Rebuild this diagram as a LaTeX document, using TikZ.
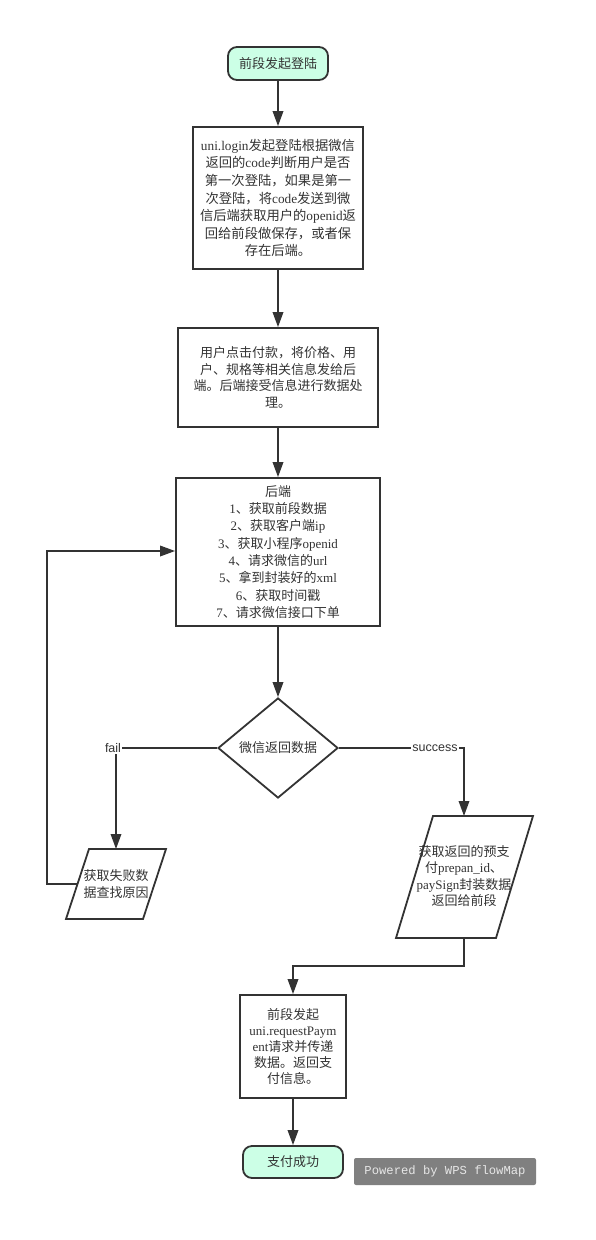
\documentclass[tikz,border=0pt]{standalone}
\usepackage{fontspec}
\setmainfont{Noto Sans CJK SC}
\newfontfamily\latf{Liberation Serif}
\newfontfamily\sansf{Liberation Sans}
\newfontfamily\monof{Liberation Mono}
\usetikzlibrary{arrows.meta,shapes.geometric}
\definecolor{ln}{HTML}{333333}
\definecolor{mint}{HTML}{CCFFE6}
\definecolor{wm}{HTML}{808080}
\definecolor{wmt}{HTML}{E6E6E6}
\tikzset{
  base/.style={draw=ln, line width=1.8pt, text=ln, inner sep=0pt, align=center},
  term/.style={base, rounded corners=9pt, fill=mint, font=\fontsize{13pt}{17pt}\selectfont},
  procbox/.style={base, font=\fontsize{13pt}{16.5pt}\selectfont},
  decide/.style={base, diamond, aspect=1.2, font=\fontsize{13pt}{17pt}\selectfont},
  para/.style={draw=ln, line width=1.8pt, line join=miter},
  ptext/.style={text=ln, inner sep=0pt, align=center, font=\fontsize{13pt}{16.5pt}\selectfont},
  arr/.style={draw=ln, line width=1.8pt, -{Triangle[length=15pt,width=10.5pt]}},
  lbl/.style={fill=white, text=ln, inner sep=1.5pt, font=\sansf\fontsize{12.5pt}{14pt}\selectfont},
}
\begin{document}
\begin{tikzpicture}[x=1pt,y=-1pt]
\useasboundingbox (0,0) rectangle (595,1240);

\node[term, minimum width=100pt, minimum height=33pt] (start) at (278,63.5) {前段发起登陆};

\node[procbox, minimum width=170pt, minimum height=142pt, font=\fontsize{13.3pt}{17.6pt}\selectfont] (b1) at (278,198) {{\latf uni.login}发起登陆根据微信\\
返回的{\latf code}判断用户是否\\
第一次登陆，如果是第一\\
次登陆，将{\latf code}发送到微\\
信后端获取用户的{\latf openid}返\\
回给前段做保存，或者保\\
存在后端。};

\node[procbox, minimum width=200pt, minimum height=99pt] (b2) at (278,377.5) {用户点击付款，将价格、用\\
户、规格等相关信息发给后\\
端。后端接受信息进行数据处\\
理。};

\node[procbox, minimum width=204pt, minimum height=148pt, font=\fontsize{13pt}{17.3pt}\selectfont] (b3) at (278,552) {后端\\
{\latf 1}、获取前段数据\\
{\latf 2}、获取客户端{\latf ip}\\
{\latf 3}、获取小程序{\latf openid}\\
{\latf 4}、请求微信的{\latf url}\\
{\latf 5}、拿到封装好的{\latf xml}\\
{\latf 6}、获取时间戳\\
{\latf 7}、请求微信接口下单};

\node[decide, minimum width=120pt, minimum height=100pt] (d) at (278,748) {微信返回数据};

% fail parallelogram
\coordinate (fA) at (89,849);
\coordinate (fB) at (166,849);
\coordinate (fC) at (143,919);
\coordinate (fD) at (66,919);
\draw[para] (fA) -- (fB) -- (fC) -- (fD) -- cycle;
\coordinate (ftop) at (116,849);
\coordinate (fleft) at (77.5,884);
\node[ptext] (ft) at (116,884) {获取失败数\\据查找原因};

% success parallelogram
\coordinate (sA) at (433,816);
\coordinate (sB) at (533,816);
\coordinate (sC) at (496,938);
\coordinate (sD) at (396,938);
\draw[para] (sA) -- (sB) -- (sC) -- (sD) -- cycle;
\coordinate (stop) at (464,816);
\coordinate (sbot) at (464,938);
\node[ptext] (st) at (464,876) {获取返回的预支\\付{\latf prepan\_id}、\\{\latf paySign}封装数据\\返回给前段};

\node[procbox, minimum width=106pt, minimum height=103pt, font=\fontsize{13pt}{16pt}\selectfont] (b4) at (293,1046.5) {前段发起\\
{\latf uni.requestPaym}\\
{\latf ent}请求并传递\\
数据。返回支\\
付信息。};

\node[term, minimum width=100pt, minimum height=32pt] (end) at (293,1162) {支付成功};

% connectors
\draw[arr] (start) -- (b1);
\draw[arr] (b1) -- (b2);
\draw[arr] (b2) -- (b3);
\draw[arr] (b3) -- (d);
\draw[arr] (d.west) -| (ftop);
\node[lbl] (failL) at (113,748) {fail};
\draw[arr] (d.east) -| (stop);
\node[lbl] (succL) at (435,748) {success};
\coordinate (loopA) at (47,884);
\coordinate (loopB) at (47,551);
\draw[arr] (fleft) -- (loopA) -- (loopB) -- (b3.west |- loopB);
\coordinate (sdown) at (464,966);
\draw[arr] (sbot) -- (sdown) -| (b4.north);
\draw[arr] (b4) -- (end);

% watermark
\node[fill=wm, rounded corners=2pt, minimum width=182pt, minimum height=27pt, inner sep=0pt, text=wmt, font=\monof\fontsize{12.2pt}{14pt}\selectfont] (wmk) at (445,1171.5) {Powered by WPS flowMap};
\end{tikzpicture}
\end{document}
